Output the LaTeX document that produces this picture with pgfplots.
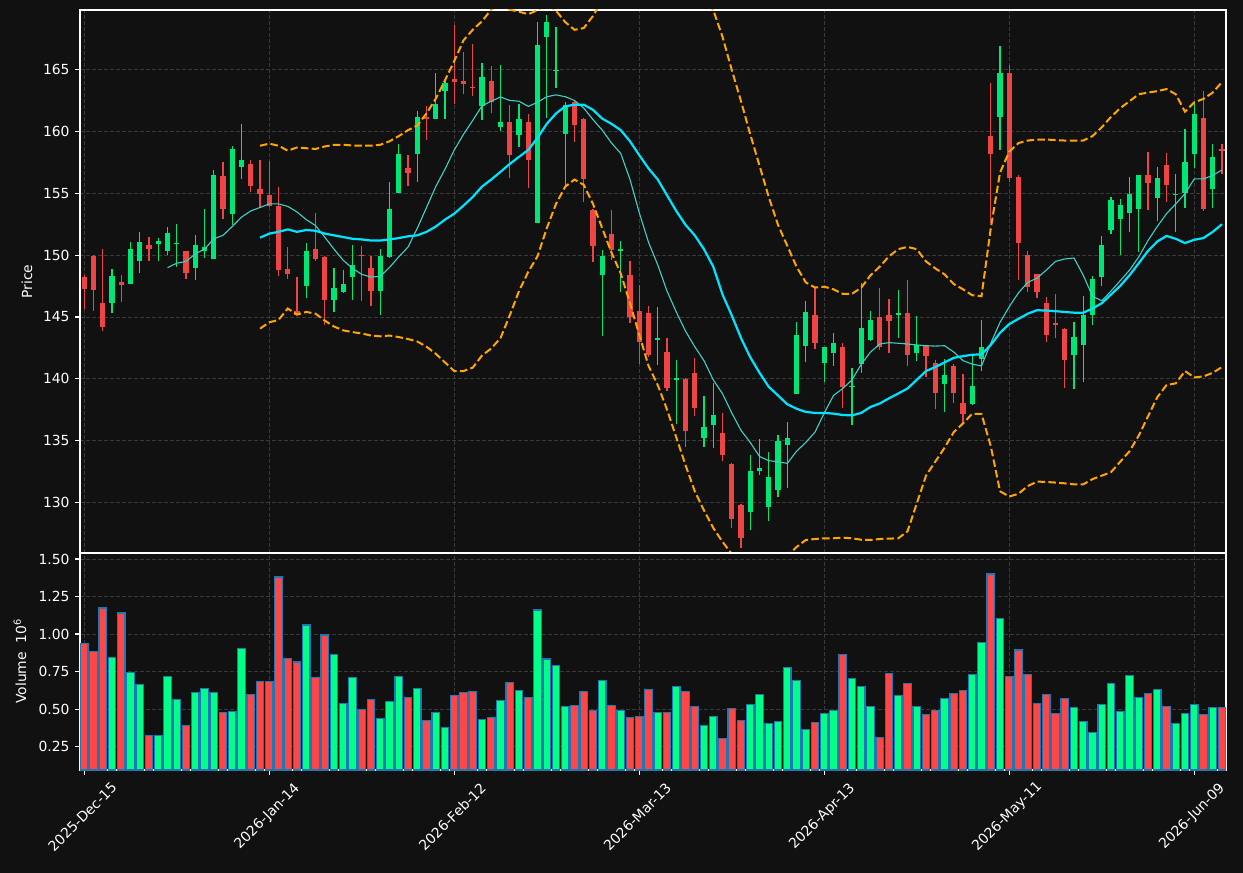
\documentclass[border=0pt]{standalone}
\usepackage{fontspec}
\setmainfont{DejaVu Sans}
\usepackage{pgfplots}
\pgfplotsset{compat=1.18}
\usepackage{pgfplotstable}

\definecolor{bg}{HTML}{111111}
\definecolor{gridc}{HTML}{3A3A3A}
\definecolor{cup}{HTML}{00E676}
\definecolor{cdn}{HTML}{EF4444}
\definecolor{vup}{HTML}{00FF88}
\definecolor{vdn}{HTML}{FF4545}
\definecolor{vedge}{HTML}{1F77B4}
\definecolor{maA}{HTML}{00E5FF}
\definecolor{maB}{HTML}{40D0C8}
\definecolor{band}{HTML}{FFA500}

\pgfplotstableread{
i o h l c v
3 146.11 148.84 145.33 148.28 0.846
5 147.66 151.10 147.66 150.53 0.746
6 149.52 151.88 148.56 151.04 0.666
8 150.87 151.41 149.55 151.12 0.326
9 150.34 152.31 150.00 151.77 0.719
10 150.86 152.53 149.07 150.98 0.566
12 148.93 151.66 147.97 150.79 0.613
13 150.34 153.69 149.77 150.62 0.639
14 149.69 156.92 149.69 156.44 0.613
16 153.32 158.78 152.45 158.55 0.486
17 157.12 160.58 156.16 157.68 0.906
24 147.47 151.01 146.54 150.31 1.060
27 146.37 148.93 145.41 147.38 0.866
28 147.02 148.76 146.96 147.63 0.539
29 148.23 150.84 146.40 149.24 0.713
32 147.10 150.48 145.19 149.89 0.439
33 149.83 155.88 149.80 153.71 0.552
34 155.04 159.00 155.00 158.16 0.719
36 158.19 161.62 155.88 161.14 0.639
38 161.03 164.69 161.00 162.24 0.479
39 163.26 164.27 161.03 163.90 0.379
43 162.07 165.51 160.95 164.38 0.432
45 160.38 165.34 160.05 160.75 0.559
47 159.71 162.21 158.70 161.00 0.626
49 152.59 168.83 152.59 166.97 1.160
50 167.65 169.39 161.06 168.86 0.833
51 164.88 168.41 163.54 165.00 0.793
52 159.82 162.35 155.54 162.13 0.519
56 148.37 150.39 143.44 149.89 0.693
58 150.37 151.18 147.04 150.49 0.492
62 143.18 145.78 141.13 143.30 0.479
64 139.95 141.53 136.32 140.07 0.653
67 135.25 138.63 134.49 136.12 0.392
68 136.24 139.67 134.38 137.05 0.452
72 129.28 133.87 127.79 132.58 0.532
73 132.52 135.14 132.21 132.80 0.599
74 129.68 134.10 128.50 132.07 0.406
75 131.06 135.50 130.44 135.00 0.419
76 134.69 136.52 131.17 135.25 0.779
77 138.74 144.62 138.74 143.58 0.693
78 142.68 146.31 141.33 145.44 0.366
80 141.30 142.60 139.73 142.54 0.472
81 142.06 143.72 141.08 142.93 0.492
83 139.33 140.88 136.29 139.45 0.706
84 141.19 147.72 140.49 144.14 0.653
85 143.16 145.47 143.10 144.79 0.519
88 145.16 147.18 143.30 145.35 0.593
90 142.06 145.10 141.44 142.77 0.519
93 139.61 141.64 137.33 140.32 0.573
96 137.95 141.89 137.90 139.44 0.733
97 141.58 144.76 140.63 142.54 0.946
99 161.14 166.89 158.53 164.72 1.106
107 141.92 144.59 139.19 143.41 0.512
108 142.77 146.71 139.75 145.19 0.419
109 145.13 148.34 144.37 148.11 0.346
110 148.23 151.55 147.52 150.79 0.532
111 152.00 154.70 151.72 154.42 0.673
112 152.90 154.56 150.03 154.08 0.486
113 153.38 156.33 151.83 154.98 0.726
114 153.71 156.47 150.28 156.44 0.579
116 154.61 157.15 152.79 156.22 0.633
118 154.84 156.58 151.83 154.96 0.406
119 155.04 160.16 153.80 157.51 0.472
120 158.19 162.30 157.06 161.40 0.532
122 155.35 158.95 153.77 157.91 0.512
}\up

\pgfplotstableread{
i o h l c v
0 148.20 148.42 145.64 147.24 0.939
1 149.97 150.05 145.47 147.18 0.886
2 146.17 150.48 143.86 144.17 1.173
4 147.80 148.42 146.23 147.58 1.140
7 150.79 151.49 149.55 150.51 0.326
11 150.31 150.35 148.06 148.59 0.392
15 156.39 157.51 152.93 153.71 0.479
18 157.34 157.71 155.12 155.60 0.599
19 155.32 157.65 153.91 154.95 0.686
20 154.84 157.60 153.90 154.00 0.686
21 153.94 155.54 148.34 148.79 1.380
22 148.84 150.67 148.06 148.45 0.839
23 145.52 148.25 145.13 145.19 0.813
25 150.53 153.43 149.55 149.69 0.713
26 149.83 149.90 144.37 146.37 0.993
30 150.05 150.76 146.31 149.91 0.499
31 148.93 149.91 145.92 147.10 0.566
35 157.01 158.13 155.60 156.64 0.579
37 161.14 162.02 159.34 161.03 0.426
40 164.24 168.63 162.24 164.01 0.593
41 164.07 166.38 163.00 163.85 0.613
42 163.62 167.08 162.86 163.50 0.619
44 164.07 165.25 161.45 162.35 0.446
46 160.75 162.10 156.25 158.08 0.679
48 160.75 161.37 155.40 157.71 0.579
53 162.38 162.52 159.15 160.52 0.526
54 161.00 161.10 154.28 156.16 0.619
55 153.63 153.70 149.44 150.70 0.492
57 151.69 153.63 149.63 150.42 0.526
59 148.37 149.49 144.51 144.99 0.446
60 145.52 147.58 141.19 143.02 0.452
61 145.35 145.92 141.75 141.89 0.633
63 142.20 143.30 139.02 139.25 0.479
65 140.01 140.06 134.49 135.76 0.619
66 140.51 141.70 136.97 137.61 0.519
69 135.64 137.25 133.39 133.82 0.306
70 133.14 133.20 127.99 128.64 0.506
71 129.82 129.90 126.30 127.17 0.426
79 145.19 147.38 142.43 142.93 0.412
82 142.54 142.93 137.67 139.33 0.866
86 145.02 147.38 142.37 142.54 0.312
87 145.13 146.48 142.09 144.65 0.739
89 145.35 148.00 141.05 141.92 0.673
91 142.71 142.75 140.12 141.84 0.466
92 141.27 141.50 137.53 138.82 0.492
94 141.02 141.19 138.09 138.82 0.606
95 138.04 140.40 136.40 137.14 0.626
98 159.62 163.90 152.59 158.19 1.400
100 164.72 165.39 155.88 156.22 0.719
101 156.30 156.47 148.00 150.98 0.893
102 150.05 150.36 147.04 147.44 0.733
103 148.48 148.50 146.54 147.02 0.539
104 146.17 146.65 142.96 143.53 0.599
105 144.54 146.87 143.30 144.34 0.472
106 144.06 144.10 139.30 141.50 0.573
115 156.44 158.36 153.63 155.82 0.606
117 157.26 158.22 154.33 155.68 0.519
121 161.06 163.23 153.57 153.69 0.466
123 158.55 158.95 156.58 158.41 0.512
}\down

\pgfplotstableread{
i ma up lo
19 151.41 158.84 144.06
20 151.74 159.01 144.57
21 151.88 158.84 144.76
22 152.08 158.44 145.69
23 151.88 158.70 145.19
24 152.03 158.64 145.41
25 151.97 158.58 145.27
26 151.74 158.78 144.71
27 151.60 158.92 144.23
28 151.46 158.92 143.92
29 151.32 158.86 143.78
30 151.27 158.84 143.67
31 151.18 158.84 143.50
32 151.18 158.92 143.44
33 151.27 159.20 143.50
34 151.38 159.62 143.38
35 151.52 160.10 143.22
36 151.60 160.47 143.02
37 151.88 161.45 142.60
38 152.31 162.64 142.03
39 152.87 164.13 141.33
40 153.35 165.68 140.63
41 154.00 167.36 140.63
42 154.70 168.21 140.91
43 155.54 168.90 141.89
44 156.11 169.85 142.46
45 156.73 170.30 143.30
46 157.37 169.84 145.13
47 157.94 169.67 147.10
48 158.50 169.47 148.65
49 159.48 169.80 149.91
50 160.61 170.30 152.17
51 161.45 169.75 154.14
52 162.02 168.83 155.54
53 162.16 168.21 156.11
54 162.16 168.35 155.68
55 161.74 169.33 154.14
56 161.03 170.60 152.17
57 160.61 171.80 150.20
58 160.10 173.00 148.51
59 159.20 174.00 146.11
60 158.08 175.00 143.58
61 157.01 175.50 141.05
62 156.11 175.50 139.50
63 154.84 175.00 137.53
64 153.57 174.00 135.28
65 152.45 173.00 133.03
66 151.60 172.00 130.92
67 150.48 170.80 129.37
68 149.07 169.80 127.96
69 146.82 167.65 126.84
70 145.13 164.97 125.85
71 143.30 162.44 125.30
72 141.75 159.76 124.90
73 140.49 157.23 124.70
74 139.36 154.70 124.70
75 138.66 152.45 125.00
76 137.95 150.76 125.70
77 137.59 149.07 126.41
78 137.33 147.80 126.98
79 137.25 147.38 127.06
80 137.25 147.45 127.12
81 137.19 147.24 127.12
82 137.08 146.87 127.17
83 137.05 146.87 127.12
84 137.25 147.38 127.00
85 137.73 148.37 126.98
86 138.01 149.07 127.06
87 138.43 149.91 127.09
88 138.82 150.48 127.12
89 139.22 150.67 127.68
90 139.92 150.48 129.93
91 140.63 149.49 132.18
92 140.96 148.93 133.31
93 141.33 148.45 134.43
94 141.70 147.66 135.70
95 141.84 147.24 136.40
96 141.95 146.76 137.19
97 141.98 146.68 137.16
98 142.74 152.17 134.57
99 143.72 156.67 130.92
100 144.43 158.36 130.49
101 144.85 159.06 130.72
102 145.27 159.26 131.34
103 145.55 159.34 131.70
104 145.52 159.34 131.67
105 145.47 159.30 131.62
106 145.41 159.26 131.56
107 145.35 159.26 131.48
108 145.35 159.26 131.48
109 145.69 159.62 131.90
110 146.11 160.33 132.18
111 146.82 161.17 132.46
112 147.52 161.88 133.31
113 148.37 162.44 134.15
114 149.35 163.00 135.42
115 150.34 163.14 136.97
116 151.10 163.25 138.52
117 151.55 163.42 139.50
118 151.32 163.00 139.64
119 150.98 161.59 140.63
120 151.24 162.35 140.12
121 151.38 162.63 140.20
122 151.88 163.14 140.49
123 152.50 163.99 140.96
}\ind

\pgfplotstableread{
i m
9 148.99
10 149.35
11 149.49
12 150.11
13 150.48
14 151.32
15 151.60
16 152.31
17 153.07
18 153.57
19 153.85
20 154.14
21 154.14
22 153.94
23 153.49
24 152.87
25 152.39
26 151.46
27 150.48
28 149.58
29 148.93
30 148.45
31 148.23
32 148.28
33 149.01
34 149.86
35 150.65
36 152.17
37 153.85
38 155.54
39 156.95
40 158.50
41 159.76
42 160.89
43 162.07
44 162.44
45 162.78
46 162.50
47 162.44
48 162.02
49 162.35
50 162.80
51 162.95
52 162.80
53 162.50
54 161.88
55 160.95
56 160.10
57 159.06
58 158.22
59 156.11
60 153.43
61 151.04
62 149.21
63 147.10
64 145.41
65 143.86
66 142.60
67 141.47
68 139.92
69 138.80
70 137.25
71 135.84
72 134.86
73 133.73
74 133.39
75 133.31
76 133.17
77 134.15
78 134.86
79 135.70
80 137.25
81 138.66
82 139.22
83 139.92
84 141.19
85 142.17
86 142.82
87 142.93
88 142.88
89 142.82
90 142.74
91 142.68
92 142.65
93 142.68
94 142.17
95 141.47
96 141.19
97 141.05
98 142.88
99 144.57
100 145.83
101 146.96
102 147.80
103 148.14
104 148.79
105 149.49
106 149.69
107 149.77
108 148.37
109 146.68
110 146.31
111 147.10
112 147.94
113 148.79
114 149.86
115 151.18
116 152.31
117 153.35
118 154.14
119 154.98
120 156.16
121 156.16
122 156.44
123 156.89
}\mten

\pgfplotsset{
  base/.style={
    scale only axis, width=1146pt, anchor=south west,
    xmin=-0.46, xmax=123.43,
    axis background/.style={fill=bg},
    axis line style={white, line width=1.1pt},
    tick style={white, line width=1.1pt},
    tick align=outside, major tick length=4.9pt,
    tick pos=left,
    xtick={0,20,...,120},
    grid=major,
    grid style={gridc, line width=1pt, dash pattern=on 4pt off 2pt},
    tick label style={font=\fontsize{13.9}{16}\selectfont, text=white},
    /pgf/number format/assume math mode=true,
    yticklabel style={anchor=east, xshift=-2pt},
  },
  ylab/.style={every axis y label/.style={at={(axis description cs:#1,0.5)},
    rotate=90, anchor=center, font=\fontsize{13.9}{16}\selectfont, text=white}},
  wick/.style={draw=none, mark=none, no markers, forget plot,
    error bars/.cd, y dir=plus, y explicit, error mark=none,
    error bar style={draw=#1, solid, line width=1.1pt}},
  body/.style={draw=none, mark=none, no markers, forget plot,
    error bars/.cd, y dir=plus, y explicit, error mark=none,
    error bar style={draw=#1, solid, line width=5.3pt}},
}

\begin{document}
\begin{tikzpicture}
\fill[bg] (0pt,0pt) rectangle (1243pt,873pt);
\useasboundingbox (0pt,0pt) rectangle (1243pt,873pt);

\begin{axis}[base, at={(80pt,320pt)}, height=543pt,
  ymin=125.93, ymax=169.81, ytick={130,135,...,165},
  xticklabels={}, x tick style={draw=none},
  ylabel={Price}, ylab=-0.04625,
]
\addplot[wick=cup] table[x=i, y=l, y error expr=\thisrow{h}-\thisrow{l}] {\up};
\addplot[wick=cdn] table[x=i, y=l, y error expr=\thisrow{h}-\thisrow{l}] {\down};
\addplot[body=cup] table[x=i, y=o, y error expr=\thisrow{c}-\thisrow{o}] {\up};
\addplot[body=cdn] table[x=i, y=c, y error expr=\thisrow{o}-\thisrow{c}] {\down};
\addplot[band, line width=2pt, dash pattern=on 7.5pt off 3.3pt] table[x=i, y=up] {\ind};
\addplot[band, line width=2pt, dash pattern=on 7.5pt off 3.3pt] table[x=i, y=lo] {\ind};
\addplot[maB, line width=1.1pt, line join=round] table[x=i, y=m] {\mten};
\addplot[maA, line width=2.2pt, line join=round] table[x=i, y=ma] {\ind};
\end{axis}

\begin{axis}[base, at={(80pt,103pt)}, height=217pt,
  ymin=0.094, ymax=1.54, ytick={0.25,0.5,...,1.5},
  scaled y ticks=false,
  yticklabel style={/pgf/number format/.cd, fixed, fixed zerofill, precision=2},
  xticklabels={2025-Dec-15,2026-Jan-14,2026-Feb-12,2026-Mar-13,2026-Apr-13,2026-May-11,2026-Jun-09},
  xticklabel style={anchor=center, yshift=-42pt, xshift=-2pt, rotate=45},
  ylabel={Volume\hspace{0.6em}10\textsuperscript{6}}, ylab=-0.05236,
]
\addplot[ybar, bar width=0.8, bar shift=0pt, fill=vup, draw=vedge, line width=1.2pt] table[x=i, y=v] {\up};
\addplot[ybar, bar width=0.8, bar shift=0pt, fill=vdn, draw=vedge, line width=1.2pt] table[x=i, y=v] {\down};
\end{axis}
\end{tikzpicture}
\end{document}
